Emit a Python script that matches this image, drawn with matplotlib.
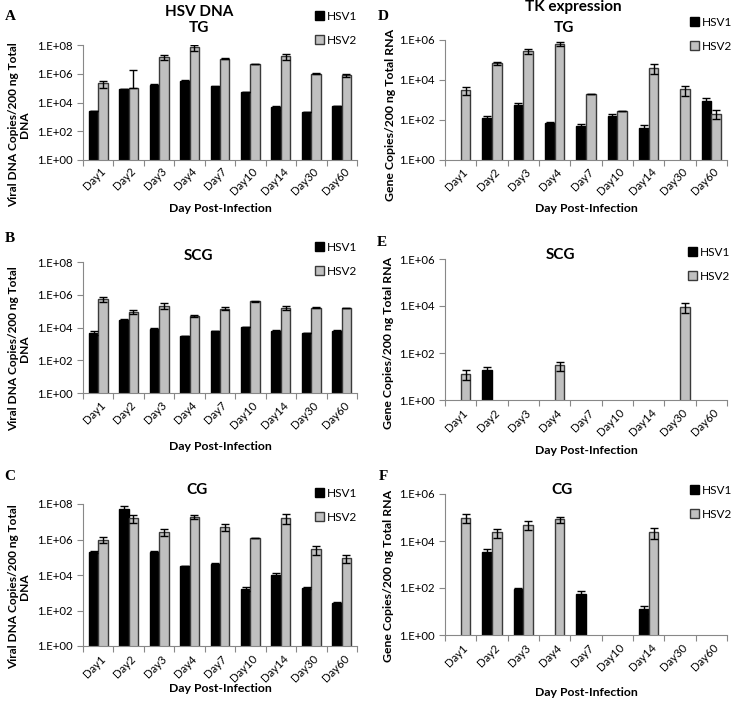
import numpy as np
import matplotlib.pyplot as plt
from matplotlib.patches import Patch

plt.rcParams['font.family'] = ['Lato', 'DejaVu Sans']

W, H = 733, 705

days = ['Day1', 'Day2', 'Day3', 'Day4', 'Day7', 'Day10', 'Day14', 'Day30', 'Day60']
nan = np.nan

# A: HSV DNA, TG
a_hsv1 = [2.4e3, 8.7e4, 1.7e5, 3.0e5, 1.3e5, 5.7e4, 4.5e3, 2.3e3, 5.6e3]
a_hsv1_sd = [0, 5e3, 2e4, 5e4, 5e3, 0, 1.5e3, 0, 0]
a_hsv2 = [2.2e5, 9.8e4, 1.4e7, 6.9e7, 1.1e7, 4.6e6, 1.7e7, 1.0e6, 8.1e5]
a_hsv2_sd = [1.1e5, 1.6e6, 5e6, 3e7, 1e6, 0, 8e6, 1e5, 2e5]

# B: HSV DNA, SCG
b_hsv1 = [4.9e3, 2.8e4, 7.8e3, 3.0e3, 5.9e3, 1.07e4, 5.9e3, 4.6e3, 5.9e3]
b_hsv1_sd = [1.5e3, 6e3, 1.5e3, 0, 0, 0, 1.2e3, 0, 8e2]
b_hsv2 = [5.5e5, 9.3e4, 2.2e5, 5.0e4, 1.4e5, 4.0e5, 1.6e5, 1.6e5, 1.6e5]
b_hsv2_sd = [2e5, 2.5e4, 8e4, 5e3, 3e4, 3e4, 4e4, 1e4, 0]

# C: HSV DNA, CG
c_hsv1 = [2.0e5, 5.2e7, 1.9e5, 3.2e4, 4.4e4, 1.7e3, 9.6e3, 1.9e3, 2.5e2]
c_hsv1_sd = [3e4, 2.5e7, 4e4, 0, 5e3, 5e2, 4e3, 3e2, 60]
c_hsv2 = [1.0e6, 1.7e7, 2.8e6, 1.9e7, 5.0e6, 1.26e6, 1.7e7, 2.9e5, 8.7e4]
c_hsv2_sd = [4e5, 8e6, 1.2e6, 5e6, 2e6, 0, 1e7, 1.5e5, 4e4]

# D: TK expression, TG
d_hsv1 = [nan, 1.3e2, 5.5e2, 68, 52, 1.5e2, 42, nan, 8.5e2]
d_hsv1_sd = [0, 20, 150, 8, 12, 40, 15, 0, 400]
d_hsv2 = [3.2e3, 6.7e4, 2.8e5, 6.5e5, 2.1e3, 2.8e2, 4.1e4, 3.4e3, 2.1e2]
d_hsv2_sd = [1.5e3, 8e3, 9e4, 1.2e5, 0, 0, 2e4, 1.8e3, 1e2]

# E: TK expression, SCG
e_hsv1 = [nan, 18.5, nan, nan, nan, nan, nan, nan, nan]
e_hsv1_sd = [0, 6, 0, 0, 0, 0, 0, 0, 0]
e_hsv2 = [13, nan, nan, 30, nan, nan, nan, 9.5e3, nan]
e_hsv2_sd = [6, 0, 0, 13, 0, 0, 0, 4.5e3, 0]

# F: TK expression, CG
f_hsv1 = [nan, 3.3e3, 90, nan, 55, nan, 13, nan, nan]
f_hsv1_sd = [0, 1.2e3, 15, 0, 20, 0, 5, 0, 0]
f_hsv2 = [1.0e5, 2.3e4, 5.0e4, 8.5e4, nan, nan, 2.4e4, nan, nan]
f_hsv2_sd = [4e4, 1e4, 2e4, 2.5e4, 0, 0, 1.2e4, 0, 0]

dna_ticks = [1e0, 1e2, 1e4, 1e6, 1e8]
dna_labels = ['1.E+00', '1.E+02', '1.E+04', '1.E+06', '1.E+08']
rna_ticks = [1e0, 1e2, 1e4, 1e6]
rna_labels = ['1.E+00', '1.E+02', '1.E+04', '1.E+06']

fig = plt.figure(figsize=(W / 100, H / 100), dpi=100)


def fx(px):
    return px / W


def fy(py):
    return 1 - py / H


def panel(rect, s1, s1_sd, s2, s2_sd, ticks, labels):
    left, top, right, bottom = rect
    ax = fig.add_axes([fx(left), fy(bottom), fx(right - left), (bottom - top) / H])
    ax.set_yscale('log')
    x = np.arange(len(days))
    w = 0.31
    for off, vals, sd, fc, ec in [(-w / 2, s1, s1_sd, 'black', 'black'),
                                  (w / 2, s2, s2_sd, '#c0c0c0', '#3a3a3a')]:
        vals = np.array(vals, dtype=float)
        sd = np.array(sd, dtype=float)
        lower = np.where(sd < vals, sd, 0)
        ax.bar(x + off, vals, w, color=fc, edgecolor=ec, linewidth=1.0, zorder=2)
        ax.errorbar(x + off, vals, yerr=[lower, sd], fmt='none', ecolor='black',
                    elinewidth=1, capsize=3, capthick=1, zorder=3)
    ax.set_xlim(-0.5, len(days) - 0.5)
    ax.set_ylim(ticks[0], ticks[-1])
    ax.set_yticks(ticks)
    ax.set_yticklabels(labels, fontsize=8.2)
    ax.minorticks_off()
    ax.set_xticks(np.arange(len(days) + 1) - 0.5, minor=False)
    ax.set_xticklabels([])
    for i, d in enumerate(days):
        ax.text(i + 0.05, -0.05, d, transform=ax.get_xaxis_transform(), rotation=45,
                ha='right', va='top', rotation_mode='anchor', fontsize=8.2)
    for s in ['top', 'right']:
        ax.spines[s].set_visible(False)
    for s in ['left', 'bottom']:
        ax.spines[s].set_color('#888888')
    ax.tick_params(axis='both', colors='#888888', length=4, width=0.8, labelcolor='black')
    return ax


def legend(ax, px, py):
    handles = [Patch(facecolor='black', edgecolor='black'),
               Patch(facecolor='#c0c0c0', edgecolor='#3a3a3a')]
    ax.legend(handles, ['HSV1', 'HSV2'], loc='upper left', bbox_to_anchor=(fx(px), fy(py)),
              bbox_transform=fig.transFigure, frameon=False, fontsize=8.5,
              handlelength=0.75, handleheight=0.75, handletextpad=0.3,
              labelspacing=1.1, borderpad=0)


def btext(px, py, s, size=7.5, **kw):
    fig.text(fx(px), fy(py), s, fontsize=size, fontweight='bold', ha='center', va='center', **kw)


dna_ylabel = 'Viral DNA Copies/200 ng Total\nDNA'
rna_ylabel = 'Gene Copies/200 ng Total RNA'

axA = panel((83, 45, 357, 160), a_hsv1, a_hsv1_sd, a_hsv2, a_hsv2_sd, dna_ticks, dna_labels)
axB = panel((83, 262, 357, 393), b_hsv1, b_hsv1_sd, b_hsv2, b_hsv2_sd, dna_ticks, dna_labels)
axC = panel((83, 504, 357, 646), c_hsv1, c_hsv1_sd, c_hsv2, c_hsv2_sd, dna_ticks, dna_labels)
axD = panel((445, 40, 727, 160), d_hsv1, d_hsv1_sd, d_hsv2, d_hsv2_sd, rna_ticks, rna_labels)
axE = panel((445, 259, 727, 400), e_hsv1, e_hsv1_sd, e_hsv2, e_hsv2_sd, rna_ticks, rna_labels)
axF = panel((445, 494, 727, 635), f_hsv1, f_hsv1_sd, f_hsv2, f_hsv2_sd, rna_ticks, rna_labels)

legend(axA, 309, 5)
legend(axB, 309, 236)
legend(axC, 309, 482)
legend(axD, 684, 11)
legend(axE, 682, 241)
legend(axF, 684, 479)

# titles
btext(199, 12, 'HSV DNA', 11)
btext(199, 28, 'TG', 11)
btext(198, 256, 'SCG', 11)
btext(197, 490, 'CG', 11)
btext(573, 7, 'TK expression', 11)
btext(564, 28, 'TG', 11)
btext(560, 255, 'SCG', 11)
btext(562, 490, 'CG', 11)

# axis labels
btext(220, 208, 'Day Post-Infection', 8.8)
btext(220, 447, 'Day Post-Infection', 8.8)
btext(220, 689, 'Day Post-Infection', 8.8)
btext(586, 208, 'Day Post-Infection', 8.8)
btext(586, 450, 'Day Post-Infection', 8.8)
btext(586, 692, 'Day Post-Infection', 8.8)

btext(19, 125, dna_ylabel, 8.6, rotation=90, linespacing=1.05)
btext(19, 349, dna_ylabel, 8.6, rotation=90, linespacing=1.05)
btext(19, 587, dna_ylabel, 8.6, rotation=90, linespacing=1.05)
btext(390, 115, rna_ylabel, 8.8, rotation=90)
btext(388, 343, rna_ylabel, 8.8, rotation=90)
btext(388, 576, rna_ylabel, 8.8, rotation=90)

# panel letters
for lx, ly, s in [(10, 17, 'A'), (10, 239, 'B'), (10, 477, 'C'),
                  (383, 16, 'D'), (382, 242, 'E'), (383, 477, 'F')]:
    fig.text(fx(lx), fy(ly), s, fontsize=11, fontweight='bold', ha='center', va='center',
             family='Liberation Serif')

fig.savefig('out.png', dpi=100)
